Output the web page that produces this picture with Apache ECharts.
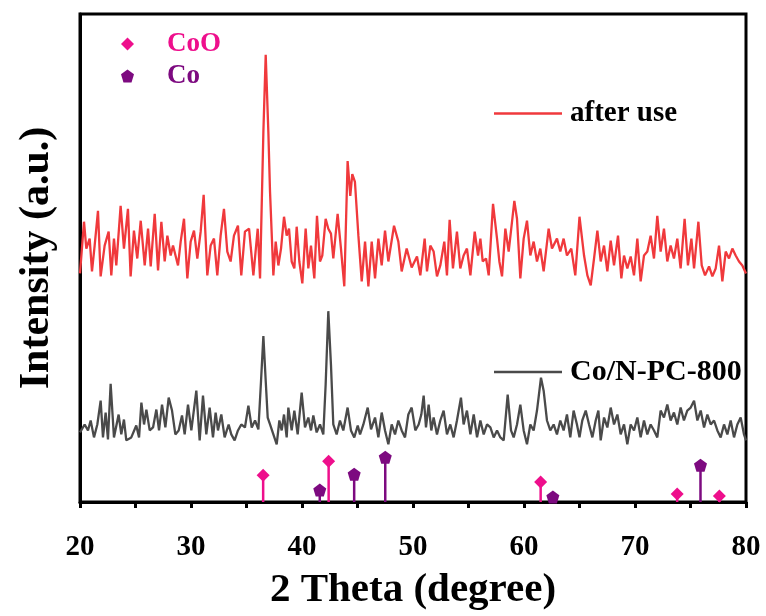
<!DOCTYPE html>
<html>
<head>
<meta charset="utf-8">
<script src="https://cdn.jsdelivr.net/npm/echarts@6/dist/echarts.min.js"></script>
<style>html,body{margin:0;padding:0;background:#fff;}#chart{width:766px;height:616px;}</style>
</head>
<body>
<div id="chart"></div>
<script>
// ---- data (2θ in degree, intensity in arbitrary units) ----
const xTicks = [20, 30, 40, 50, 60, 70, 80];

const afterUseTheta = [20.0,20.36,20.57,20.87,21.08,21.32,21.62,21.86,22.22,22.58,22.82,23.06,23.27,23.66,23.96,24.32,24.56,24.86,25.16,25.47,25.83,26.13,26.37,26.73,27.03,27.33,27.63,27.87,28.17,28.38,28.83,29.07,29.37,29.67,29.97,30.27,30.57,30.87,31.14,31.47,31.77,32.07,32.37,32.67,32.97,33.27,33.57,33.87,34.23,34.53,34.86,
35.23,35.62,36.01,36.22,36.52,36.73,36.97,37.12,37.42,37.63,37.87,38.11,38.38,38.62,38.83,39.07,39.31,39.52,39.76,40.03,40.33,40.57,40.81,41.11,41.35,41.62,41.83,42.13,42.37,42.61,42.82,43.21,43.51,43.81,44.11,44.35,44.53,44.77,45.08,45.38,45.68,45.98,46.28,46.58,46.88,47.18,47.48,47.78,48.29,48.68,48.98,49.43,49.88,
50.36,50.66,51.05,51.26,51.56,51.86,52.16,52.46,52.82,53.06,53.30,53.60,53.96,54.26,54.56,54.86,55.17,55.56,55.86,56.07,56.28,56.58,56.82,57.21,57.57,57.78,58.02,58.32,58.62,59.13,59.37,59.67,59.97,60.27,60.57,60.87,61.17,61.47,61.77,62.22,62.52,62.97,63.27,63.57,63.87,64.26,64.62,65.0,
65.41,65.71,66.01,66.31,66.61,66.91,67.21,67.51,67.81,68.11,68.47,68.77,69.01,69.31,69.61,69.91,70.21,70.51,70.81,71.11,71.41,71.71,72.01,72.31,72.61,72.91,73.21,73.51,73.81,74.11,74.47,74.77,75.08,75.32,75.71,76.01,76.31,76.67,76.97,77.27,77.57,77.87,78.17,78.47,78.77,79.07,79.37,79.67,80.0];
const afterUseIntensity = [230,282,255,265,232,258,293,227,258,272,228,265,238,298,255,295,227,273,245,283,238,275,237,290,233,282,242,268,248,258,238,262,285,225,262,273,245,272,309,228,258,265,228,268,295,252,242,268,278,228,272,
275,228,275,225,372,450,372,312,228,262,238,255,287,268,275,242,235,277,242,220,275,235,258,225,288,242,248,285,275,270,245,290,255,217,343,308,330,322,268,222,262,217,262,225,265,238,273,242,278,262,232,255,236,
247,228,265,232,258,252,227,238,262,228,284,235,272,235,248,255,228,272,248,265,242,245,228,300,265,242,227,275,252,303,285,225,265,283,248,262,242,255,232,275,255,265,252,265,248,255,228,287,
248,228,218,245,273,242,258,232,263,238,268,225,248,235,247,228,265,222,248,252,268,245,288,252,275,242,258,245,265,235,285,238,265,235,282,238,228,237,227,235,258,222,252,245,255,248,242,238,230];

const pristineTheta = [20.0,20.12,20.42,20.72,20.96,21.26,21.56,21.86,22.07,22.31,22.52,22.76,23.06,23.48,23.72,23.96,24.17,24.62,25.07,25.32,25.53,25.77,25.98,26.28,26.58,26.88,27.12,27.39,27.69,27.99,28.29,28.59,28.89,29.19,29.43,29.73,30.03,30.48,30.78,31.08,31.38,31.68,31.98,32.22,32.43,32.73,33.03,33.39,33.63,33.93,34.23,34.53,34.86,
35.17,35.47,35.77,36.07,36.31,36.52,36.73,36.91,37.12,37.42,37.72,37.96,38.17,38.38,38.62,38.77,39.07,39.31,39.61,39.97,40.27,40.57,40.81,41.02,41.32,41.62,41.92,42.13,42.37,42.61,42.82,43.12,43.42,43.72,44.11,44.41,44.71,45.02,45.23,45.53,45.92,46.22,46.58,46.88,47.18,47.48,47.78,48.08,48.38,48.68,48.98,49.28,49.58,49.88,
50.21,50.51,50.75,50.96,51.17,51.41,51.65,51.86,52.16,52.46,52.76,53.06,53.36,53.66,53.96,54.32,54.56,54.86,55.17,55.47,55.77,56.07,56.37,56.67,56.97,57.27,57.57,57.87,58.17,58.53,58.83,59.07,59.37,59.67,59.97,60.27,60.57,60.87,61.17,61.53,61.77,62.07,62.37,62.67,62.97,63.27,63.57,63.87,64.17,64.47,64.77,
65.0,65.25,65.56,65.86,66.16,66.46,66.70,66.91,67.21,67.51,67.81,68.11,68.41,68.71,69.01,69.31,69.61,69.91,70.21,70.51,70.81,71.11,71.41,71.71,72.01,72.31,72.61,72.91,73.21,73.51,73.81,74.11,74.41,74.71,75.02,75.32,75.62,75.92,76.22,76.52,76.82,77.12,77.42,77.72,78.02,78.32,78.62,78.92,79.22,79.52,79.82,80.0];
const pristineIntensity = [70,68,78,72,82,65,78,102,65,90,63,119,65,88,68,83,62,65,77,65,100,78,93,72,75,93,72,98,75,105,92,68,72,87,68,98,72,112,62,107,68,95,65,90,72,88,65,78,68,62,72,78,75,
97,75,82,73,122,167,122,85,78,68,58,82,72,88,65,95,72,92,68,110,75,85,72,87,70,78,68,118,192,138,78,68,82,72,95,72,65,77,68,78,95,73,85,65,90,72,58,78,68,82,72,65,88,95,
72,78,88,107,75,98,72,85,68,82,92,68,78,65,82,105,78,92,68,88,65,82,68,78,75,65,72,65,62,108,72,65,78,98,72,58,78,72,92,125,112,82,72,78,68,82,72,88,65,92,78,
65,82,92,78,65,82,92,62,85,75,95,78,88,68,78,58,78,72,85,65,82,68,78,72,65,92,85,98,82,90,78,95,82,92,95,102,82,92,75,88,78,82,72,65,78,68,82,65,78,85,68,62];

const cooTheta = [36.5, 42.4, 61.5, 73.8, 77.6];
const cooIntensity = [27, 41, 20, 8, 6];
const coTheta = [41.6, 44.7, 47.5, 62.6, 75.9];
const coIntensity = [12, 28, 45, 5, 37];

// ---- build ----
const zip = (a, b) => a.map((v, i) => [v, b[i]]);
const RED = '#f0393c', GREY = '#4a4a4a', PINK = '#ee0f8c', PURPLE = '#7d0a80';
const FONT = '"Liberation Serif", "Times New Roman", serif';
const PENTAGON = 'path://M50,0 L100,37 L81,100 L19,100 L0,37 Z';

function stem(color) {
  return function (params, api) {
    const p0 = api.coord([api.value(0), 0]);
    const p1 = api.coord([api.value(0), api.value(1)]);
    return { type: 'line', shape: { x1: p0[0], y1: p0[1], x2: p1[0], y2: p1[1] }, style: { stroke: color, lineWidth: 2.5 } };
  };
}

const chart = echarts.init(document.getElementById('chart'), null, { renderer: 'canvas' });
chart.setOption({
  animation: false,
  backgroundColor: '#fff',
  grid: { left: 80, right: 20, top: 14, bottom: 111, show: true, borderColor: '#000', borderWidth: 3, backgroundColor: 'transparent' },
  legend: [
    { data: [{ name: 'CoO', icon: 'diamond', textStyle: { color: PINK } }, { name: 'Co', icon: PENTAGON, textStyle: { color: PURPLE } }],
      orient: 'vertical', left: 121, top: 30, padding: 0, itemWidth: 13, itemHeight: 13, itemGap: 4,
      textStyle: { fontFamily: FONT, fontWeight: 'bold', fontSize: 27, lineHeight: 28, padding: [0, 0, 0, 28] } },
    { data: [{ name: 'after use', icon: 'rect' }], left: 494, top: 99, padding: 0, itemWidth: 68, itemHeight: 2.5,
      textStyle: { fontFamily: FONT, fontWeight: 'bold', fontSize: 29, color: '#000', padding: [0, 0, 0, 3] } },
    { data: [{ name: 'Co/N-PC-800', icon: 'rect' }], left: 494, top: 357, padding: 0, itemWidth: 68, itemHeight: 2.5,
      textStyle: { fontFamily: FONT, fontWeight: 'bold', fontSize: 30, color: '#000', padding: [0, 0, 0, 3] } }
  ],
  xAxis: {
    type: 'value', min: xTicks[0], max: xTicks[xTicks.length - 1], interval: 10,
    name: '2 Theta (degree)', nameLocation: 'middle', nameGap: 68,
    nameTextStyle: { fontFamily: FONT, fontWeight: 'bold', fontSize: 41, color: '#000' },
    axisLine: { lineStyle: { color: '#000', width: 3 } },
    axisTick: { show: true, length: 6, lineStyle: { color: '#000', width: 3 } },
    minorTick: { show: true, splitNumber: 2, length: 6, lineStyle: { color: '#000', width: 3 } },
    axisLabel: { fontFamily: FONT, fontWeight: 'bold', fontSize: 29, color: '#000', margin: 31 },
    splitLine: { show: false }
  },
  yAxis: {
    type: 'value', min: 0, max: 491,
    name: 'Intensity (a.u.)', nameLocation: 'middle', nameGap: 22,
    nameTextStyle: { fontFamily: FONT, fontWeight: 'bold', fontSize: 42, color: '#000' },
    axisLine: { show: true, lineStyle: { color: '#000', width: 3 } },
    axisTick: { show: false }, axisLabel: { show: false }, splitLine: { show: false }
  },
  series: [
    { name: 'after use', type: 'line', data: zip(afterUseTheta, afterUseIntensity), symbol: 'none', lineStyle: { color: RED, width: 2.3 }, itemStyle: { color: RED }, z: 3 },
    { name: 'Co/N-PC-800', type: 'line', data: zip(pristineTheta, pristineIntensity), symbol: 'none', lineStyle: { color: GREY, width: 2.3 }, itemStyle: { color: GREY }, z: 3 },
    { name: 'CoO-stem', type: 'custom', renderItem: stem(PINK), data: zip(cooTheta, cooIntensity), encode: { x: 0, y: 1 }, z: 2 },
    { name: 'Co-stem', type: 'custom', renderItem: stem(PURPLE), data: zip(coTheta, coIntensity), encode: { x: 0, y: 1 }, z: 2 },
    { name: 'CoO', type: 'scatter', symbol: 'diamond', symbolSize: 13, data: zip(cooTheta, cooIntensity), itemStyle: { color: PINK, opacity: 1 }, z: 4 },
    { name: 'Co', type: 'scatter', symbol: PENTAGON, symbolSize: 13, data: zip(coTheta, coIntensity), itemStyle: { color: PURPLE, opacity: 1 }, z: 4 }
  ]
});
</script>
</body>
</html>
